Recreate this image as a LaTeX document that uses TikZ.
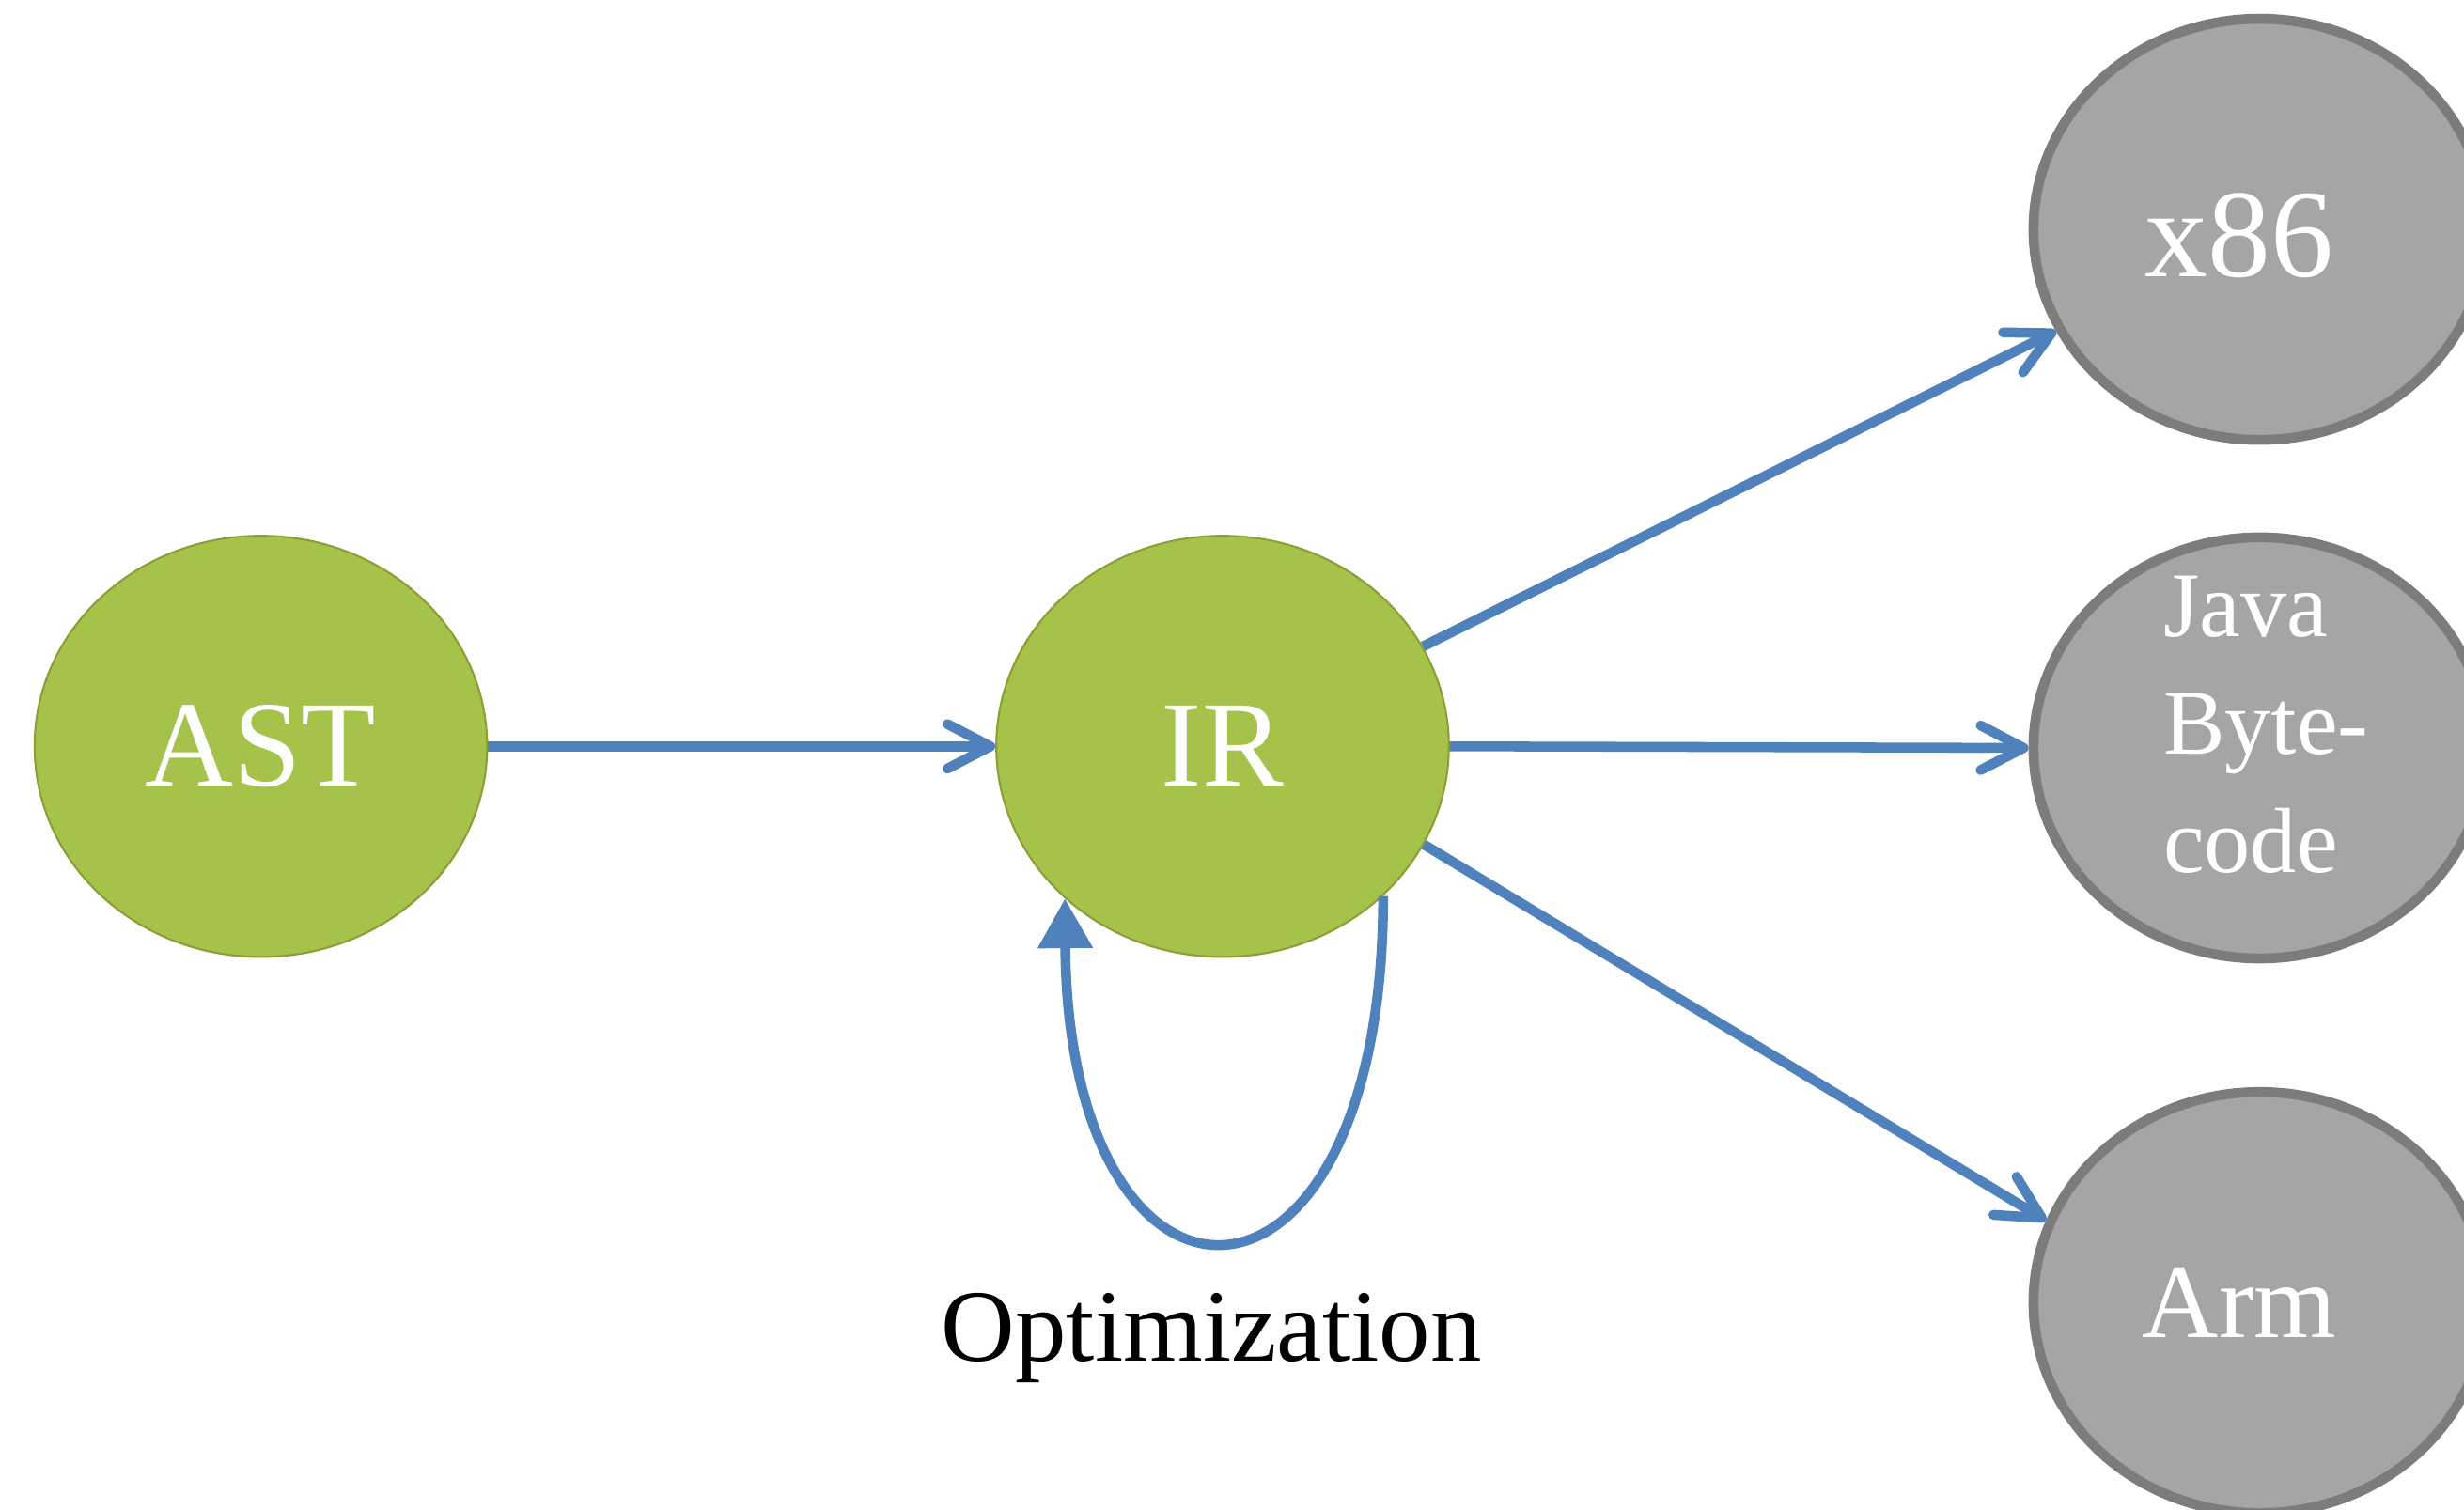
\documentclass[tikz,border=0pt]{standalone}
\usepackage{fontspec}
\setmainfont{Liberation Serif}
\usetikzlibrary{shapes.geometric,arrows.meta}
\definecolor{leaf}{RGB}{165,195,74}
\definecolor{leafline}{RGB}{140,158,52}
\definecolor{stone}{RGB}{165,165,165}
\definecolor{stoneline}{RGB}{124,124,124}
\definecolor{flowblue}{RGB}{79,129,189}
\begin{document}
\begin{tikzpicture}[x=0.016722cm, y=-0.016722cm,
  stage/.style={ellipse, minimum width=4.816cm, minimum height=4.482cm, inner sep=0pt},
  source/.style={stage, fill=leaf, draw=leafline, line width=0.6pt, text=white,
                 font=\fontsize{37}{44}\selectfont},
  target/.style={stage, fill=stone, draw=stoneline, line width=3pt},
  tlabel/.style={text=white, inner sep=0pt},
  flow/.style={draw=flowblue, line width=3pt,
               -{Straight Barb[length=13pt, width=13.5pt, round]}},
  loopflow/.style={draw=flowblue, line width=3pt,
               -{Triangle[length=15pt, width=16pt]}}
]
\useasboundingbox (0,0) rectangle (1568,961);
\clip (0,0) rectangle (1568,961);

% front end and intermediate representation
\node[source] (AST) at (166,475) {AST};
\node[source] (IR)  at (778,475) {IR};

% back-end targets
\node[target] (x86)  at (1438,146) {};
\node[target] (java) at (1438,476) {};
\node[target] (arm)  at (1438,829) {};

\node[tlabel, anchor=base, font=\fontsize{38}{44}\selectfont] (x86text) at (1425,176) {x86};
\node[tlabel, align=left, font=\fontsize{28}{35.7}\selectfont] (javatext) at (1442,461) {Java\\Byte-\\code};
\node[tlabel, anchor=base, font=\fontsize{32}{38}\selectfont] (armtext) at (1425,851) {Arm};

% translation steps
\draw[flow] (AST) -- (IR);
\draw[flow] (IR) -- (x86);
\draw[flow] (IR.east) -- (java.west);
\draw[flow] (IR.-26.6) -- (arm.159.7);

% optimization loop on the IR
\draw[loopflow] (IR.-43) .. controls (880,861) and (680,861) .. (IR.-136);
\node[anchor=base, inner sep=0pt, font=\fontsize{31}{37}\selectfont] (opttext) at (771,866) {Optimization};
\end{tikzpicture}
\end{document}
